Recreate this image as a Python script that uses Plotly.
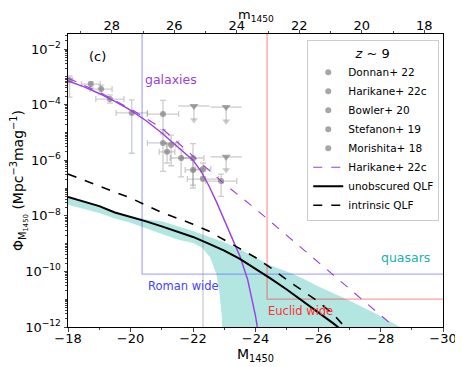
import numpy as np
import plotly.graph_objects as go

# apparent minus absolute magnitude at z~9 (top axis)
m_offset = 47.4

# galaxy UV LF models, Harikane+ 22c (M1450, log10 phi)
gal_sch_M = [-18, -18.5, -19, -19.5, -20, -20.5, -21, -21.5, -22, -22.25, -22.5,
             -22.75, -23, -23.25, -23.5, -23.75, -24.0, -24.1]
gal_sch_logphi = [-3.15, -3.35, -3.6, -3.88, -4.2, -4.58, -5.02, -5.52, -6.0, -6.38,
                  -6.9, -7.5, -8.15, -8.8, -9.45, -10.3, -11.6, -12.3]
gal_dpl_M = [-18, -19, -20, -21, -22, -22.5, -23, -24, -25, -26, -27, -28, -28.5]
gal_dpl_logphi = [-3.05, -3.55, -4.15, -4.85, -5.85, -6.35, -6.85, -7.75, -8.7,
                  -9.65, -10.6, -11.55, -12.05]

# quasar LFs
qlf_unobsc_M = [-18, -19, -19.5, -20, -20.5, -21, -21.5, -22, -22.5, -23, -23.5,
                -24, -24.5, -25, -25.5, -26, -26.5, -26.8]
qlf_unobsc_logphi = [-7.32, -7.65, -7.88, -8.03, -8.2, -8.38, -8.56, -8.76, -9.0,
                     -9.25, -9.55, -9.9, -10.27, -10.65, -11.05, -11.45, -11.88, -12.15]
qlf_intr_M = [-18, -19, -20, -21, -22, -22.5, -23, -23.5, -24, -24.5, -25, -25.5,
              -26, -26.5, -26.9]
qlf_intr_logphi = [-6.5, -6.92, -7.36, -7.88, -8.3, -8.55, -8.85, -9.18, -9.5, -9.88,
                   -10.3, -10.7, -11.08, -11.55, -12.05]

# shaded uncertainty band of the unobscured QLF
band_up_M = [-18, -19, -19.5, -20, -20.5, -21, -21.5, -22, -22.5, -23, -23.5, -24,
             -24.5, -25, -25.5, -26, -27, -28, -28.7]
band_up_logphi = [-7.32, -7.62, -7.86, -8.0, -8.13, -8.2, -8.37, -8.55, -8.75, -8.95,
                  -9.2, -9.5, -9.8, -10.0, -10.25, -10.53, -11.05, -11.6, -12.05]
band_lo_M = [-18, -19, -19.5, -20, -20.5, -21, -21.5, -22, -22.3, -22.55, -22.75,
             -22.85, -22.92, -22.95, -28.7]
band_lo_logphi = [-7.6, -7.9, -8.1, -8.25, -8.45, -8.65, -8.85, -8.98, -9.15, -9.5,
                  -10.1, -10.8, -11.6, -12.5, -12.5]

# observed galaxy points
surveys = ["Donnan+ 22", "Harikane+ 22c", "Bowler+ 20", "Stefanon+ 19", "Morishita+ 18"]
pt_survey = ["Harikane+ 22c", "Harikane+ 22c", "Harikane+ 22c", "Harikane+ 22c",
             "Morishita+ 18", "Morishita+ 18", "Harikane+ 22c", "Donnan+ 22",
             "Donnan+ 22", "Donnan+ 22", "Bowler+ 20", "Donnan+ 22", "Bowler+ 20",
             "Stefanon+ 19", "Stefanon+ 19"]
pt_M = [-18.05, -18.73, -19.06, -19.34, -20.04, -21.04, -21.04, -21.3, -21.17,
        -21.62, -22.0, -22.0, -22.32, -22.9, -22.32]
pt_logphi = [-3.12, -3.26, -3.44, -3.8, -4.3, -4.34, -5.38, -5.45, -5.7, -5.92,
             -5.92, -6.35, -6.32, -6.75, -6.68]
pt_xerr = [0.1, 0.3, 0.35, 0.45, 0.5, 0.5, 0.5, 0.15, 0.25, 0.35, 0.35, 0.25, 0.25,
           0.5, 0.5]
pt_hi = [-2.97, -3.18, -3.3, -3.65, -3.83, -3.85, -4.9, -5.1, -5.4, -5.6, -5.4, -6.0,
         -6.1, -6.5, -6.4]
pt_lo = [-3.73, -3.4, -3.62, -3.95, -5.75, -5.05, -6.4, -6.2, -6.1, -6.6, -7.0, -6.9,
         -6.6, -7.3, -13.0]

# upper limits
ul_survey = ["Stefanon+ 19", "Morishita+ 18", "Bowler+ 20"]
ul_M = [-22.03, -23.06, -23.06]
ul_logphi = [-4.05, -4.09, -5.88]
ul_xerr = [0.5, 0.5, 0.5]
ul_end = [-4.55, -4.6, -6.35]

# survey limits
roman_M, roman_logphi = -20.37, -10.1
euclid_M, euclid_logphi = -24.37, -11.0

purple = "#9a3fe0"
grey_mk = "rgba(128,128,128,0.7)"
grey_eb = "rgba(128,128,128,0.4)"
font = "DejaVu Sans"

fig = go.Figure()

# shaded band
fx = band_up_M + band_lo_M[::-1]
fy = [10 ** v for v in band_up_logphi + band_lo_logphi[::-1]]
fig.add_trace(go.Scatter(x=fx, y=fy, fill="toself", mode="lines", line=dict(width=0),
                         fillcolor="rgba(64,190,180,0.4)", showlegend=False,
                         hoverinfo="skip"))

# survey limits
fig.add_trace(go.Scatter(x=[roman_M, roman_M, -31], y=[1, 10 ** roman_logphi, 10 ** roman_logphi],
                         mode="lines", line=dict(color="rgba(70,70,255,0.45)", width=1.3),
                         showlegend=False))
fig.add_trace(go.Scatter(x=[euclid_M, euclid_M, -31], y=[1, 10 ** euclid_logphi, 10 ** euclid_logphi],
                         mode="lines", line=dict(color="rgba(255,40,40,0.45)", width=1.3),
                         showlegend=False))

# observed points
for s in surveys:
    idx = [i for i, v in enumerate(pt_survey) if v == s]
    y = np.array([10 ** pt_logphi[i] for i in idx])
    hi = np.array([10 ** pt_hi[i] for i in idx])
    lo = np.array([10 ** pt_lo[i] for i in idx])
    fig.add_trace(go.Scatter(
        x=[pt_M[i] for i in idx], y=y, mode="markers", name=s,
        marker=dict(color=grey_mk, size=6),
        error_x=dict(type="data", array=[pt_xerr[i] for i in idx], color=grey_eb,
                     thickness=1.3, width=3),
        error_y=dict(type="data", symmetric=False, array=hi - y, arrayminus=y - lo,
                     color=grey_eb, thickness=1.3, width=3)))
    uidx = [i for i, v in enumerate(ul_survey) if v == s]
    if uidx:
        uy = np.array([10 ** ul_logphi[i] for i in uidx])
        ue = np.array([10 ** ul_end[i] for i in uidx])
        fig.add_trace(go.Scatter(
            x=[ul_M[i] for i in uidx], y=uy, mode="markers", showlegend=False,
            marker=dict(color=grey_mk, size=8, symbol="triangle-down"),
            error_x=dict(type="data", array=[ul_xerr[i] for i in uidx], color=grey_eb,
                         thickness=1.3, width=0),
            error_y=dict(type="data", symmetric=False, array=[0] * len(uidx),
                         arrayminus=uy - ue, color=grey_eb, thickness=1.3, width=0)))
        fig.add_trace(go.Scatter(
            x=[ul_M[i] for i in uidx], y=ue, mode="markers", showlegend=False,
            marker=dict(color=grey_eb, size=7, symbol="triangle-down")))

# models
fig.add_trace(go.Scatter(x=gal_sch_M, y=[10 ** v for v in gal_sch_logphi], mode="lines",
                         line=dict(color=purple, width=1.4), showlegend=False))
fig.add_trace(go.Scatter(x=gal_dpl_M, y=[10 ** v for v in gal_dpl_logphi], mode="lines",
                         line=dict(color=purple, width=1.1, dash="dash"),
                         name="Harikane+ 22c"))
fig.add_trace(go.Scatter(x=qlf_unobsc_M, y=[10 ** v for v in qlf_unobsc_logphi],
                         mode="lines", line=dict(color="black", width=2),
                         name="unobscured QLF"))
fig.add_trace(go.Scatter(x=qlf_intr_M, y=[10 ** v for v in qlf_intr_logphi],
                         mode="lines", line=dict(color="black", width=1.6, dash="dash"),
                         name="intrinsic QLF"))

# dummy trace for the top (apparent magnitude) axis
fig.add_trace(go.Scatter(x=[-18 + m_offset], y=[1e-5], xaxis="x2", mode="markers",
                         marker=dict(opacity=0), showlegend=False, hoverinfo="skip"))

fig.add_annotation(x=-21.3, y=-3.1, text="galaxies", font_color=purple,
                   showarrow=False, font_size=12.5, font_family=font)
fig.add_annotation(x=-28.8, y=-9.5, text="quasars", font_color="#20b2aa",
                   showarrow=False, font_size=12.5, font_family=font)
fig.add_annotation(x=-21.68, y=-10.53, text="Roman wide", font_color="#4444ff",
                   showarrow=False, font_size=11.5, font_family=font)
fig.add_annotation(x=-25.45, y=-11.42, text="Euclid wide", font_color="#ff3030",
                   showarrow=False, font_size=11.5, font_family=font)
fig.add_annotation(x=0.05, y=0.955, xref="paper", yref="paper", text="(c)",
                   showarrow=False, font_size=13, font_family=font)
fig.add_annotation(x=0.5, y=1, xref="paper", yref="paper", yanchor="bottom", yshift=8,
                   text="m<sub>1450</sub>", showarrow=False, font_size=13,
                   font_family=font)

ytv = [10 ** k for k in [-12, -10, -8, -6, -4, -2]]
ytt = ["10<sup>−%d</sup>" % k for k in [12, 10, 8, 6, 4, 2]]
yminor = [d * 10 ** k for k in range(-12, -1) for d in range(1, 10)]

# the page body adds an 8px offset, so the figure is 8px smaller than the window
fig.update_layout(
    width=455, height=359,
    margin=dict(l=60, r=20, t=26, b=40),
    paper_bgcolor="white", plot_bgcolor="white",
    font=dict(family=font, size=13, color="black"),
    xaxis=dict(range=[-18, -30], tickvals=[-18, -20, -22, -24, -26, -28, -30],
               ticktext=["−18", "−20", "−22", "−24", "−26", "−28", "−30"],
               ticks="outside", ticklen=3.5, showline=True, linecolor="black",
               linewidth=1, showgrid=False, zeroline=False, automargin=False,
               ticklabelstandoff=-4,
               minor=dict(tickvals=[-19, -21, -23, -25, -27, -29], ticks="outside",
                          ticklen=2, showgrid=False),
               title=dict(text="M<sub>1450</sub>", standoff=0, font_size=14)),
    xaxis2=dict(overlaying="x", side="top", anchor="y", automargin=False,
                range=[-18 + m_offset, -30 + m_offset], ticklabelstandoff=-6,
                tickvals=[28, 26, 24, 22, 20, 18], ticks="outside", ticklen=3.5,
                showline=True, linecolor="black", showgrid=False, zeroline=False,
                minor=dict(tickvals=[29, 27, 25, 23, 21, 19], ticks="outside",
                           ticklen=2, showgrid=False)),
    yaxis=dict(type="log", range=[-12, -1.46], tickvals=ytv, ticktext=ytt,
               ticks="outside", ticklen=3.5, showline=True, linecolor="black",
               mirror=True, showgrid=False, zeroline=False, automargin=False,
               minor=dict(tickvals=yminor, ticks="outside", ticklen=2, showgrid=False),
               title=dict(text="Φ<sub>M<sub>1450</sub></sub> (Mpc<sup>−3</sup>mag<sup>−1</sup>)",
                          standoff=2, font_size=14)),
    legend=dict(x=0.99, y=0.98, xanchor="right", yanchor="top",
                bgcolor="rgba(255,255,255,0.85)", bordercolor="#cccccc", borderwidth=1,
                font=dict(size=10.5, family=font),
                title=dict(text="<i>z</i> ~ 9", side="top center", font_size=13)),
)

fig.write_html("out.html")
